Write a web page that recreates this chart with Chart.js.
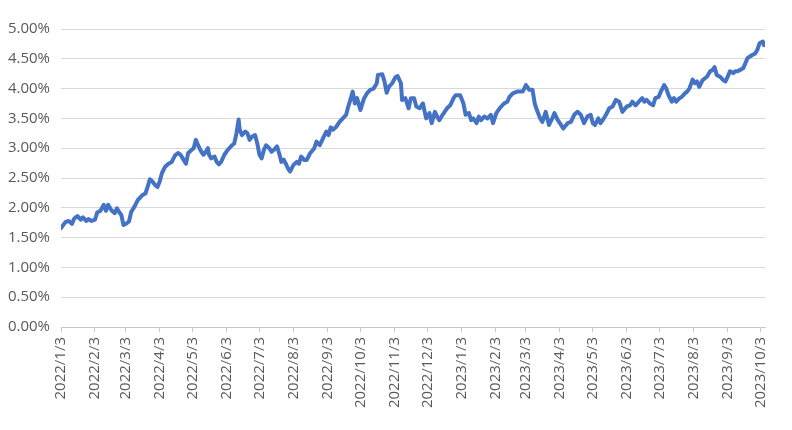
<!DOCTYPE html>
<html>
<head>
<meta charset="utf-8">
<script src="https://cdn.jsdelivr.net/npm/chart.js@4"></script>
<style>
  html, body { margin: 0; padding: 0; background: #ffffff; }
  #wrap { width: 792px; height: 430px; position: relative; }
</style>
</head>
<body>
<div id="wrap"><canvas id="c" width="792" height="430"></canvas></div>
<script>
// ---- data ----
const dates = [
"2022/1/3","2022/1/7","2022/1/10","2022/1/13","2022/1/15","2022/1/18","2022/1/21","2022/1/23","2022/1/26","2022/1/28","2022/1/31",
"2022/2/3","2022/2/5","2022/2/8","2022/2/11","2022/2/13","2022/2/15","2022/2/18","2022/2/21","2022/2/23","2022/2/25","2022/2/27",
"2022/3/1","2022/3/4","2022/3/6","2022/3/8","2022/3/11","2022/3/14","2022/3/18","2022/3/21","2022/3/23","2022/3/25","2022/3/27","2022/3/30",
"2022/4/1","2022/4/3","2022/4/5","2022/4/8","2022/4/11","2022/4/14","2022/4/17","2022/4/20","2022/4/22","2022/4/24","2022/4/27","2022/4/29",
"2022/5/2","2022/5/4","2022/5/6","2022/5/8","2022/5/11","2022/5/13","2022/5/15","2022/5/17","2022/5/18","2022/5/20","2022/5/23","2022/5/25","2022/5/27","2022/5/29",
"2022/6/1","2022/6/4","2022/6/8","2022/6/10","2022/6/12","2022/6/14","2022/6/15","2022/6/17","2022/6/20","2022/6/22","2022/6/24","2022/6/26","2022/6/29",
"2022/7/1","2022/7/3","2022/7/5","2022/7/7","2022/7/9","2022/7/12","2022/7/14","2022/7/16","2022/7/19","2022/7/21","2022/7/23","2022/7/25","2022/7/27","2022/7/29","2022/7/31",
"2022/8/3","2022/8/6","2022/8/8","2022/8/10","2022/8/13","2022/8/15","2022/8/18","2022/8/22","2022/8/24","2022/8/27","2022/8/30",
"2022/9/2","2022/9/4","2022/9/6","2022/9/8","2022/9/11","2022/9/14","2022/9/17","2022/9/20","2022/9/22","2022/9/24","2022/9/26","2022/9/28","2022/9/30",
"2022/10/3","2022/10/6","2022/10/9","2022/10/12","2022/10/15","2022/10/18","2022/10/19","2022/10/23","2022/10/25","2022/10/27","2022/10/29",
"2022/11/1","2022/11/4","2022/11/6","2022/11/9","2022/11/10","2022/11/13","2022/11/16","2022/11/18","2022/11/21","2022/11/23","2022/11/26","2022/11/29",
"2022/12/2","2022/12/5","2022/12/7","2022/12/10","2022/12/12","2022/12/14","2022/12/17","2022/12/21","2022/12/24","2022/12/27","2022/12/29",
"2023/1/2","2023/1/5","2023/1/7","2023/1/10","2023/1/12","2023/1/14","2023/1/17","2023/1/19","2023/1/21","2023/1/24","2023/1/27","2023/1/30",
"2023/2/1","2023/2/4","2023/2/7","2023/2/11","2023/2/14","2023/2/16","2023/2/19","2023/2/23","2023/2/26","2023/2/28",
"2023/3/3","2023/3/6","2023/3/9","2023/3/11","2023/3/13","2023/3/16","2023/3/18","2023/3/21","2023/3/24","2023/3/27","2023/3/29",
"2023/4/1","2023/4/4","2023/4/6","2023/4/10","2023/4/13","2023/4/16","2023/4/19","2023/4/22","2023/4/25","2023/4/28",
"2023/5/1","2023/5/3","2023/5/5","2023/5/8","2023/5/10","2023/5/12","2023/5/15","2023/5/18","2023/5/21","2023/5/24","2023/5/27","2023/5/30",
"2023/6/3","2023/6/6","2023/6/8","2023/6/11","2023/6/14","2023/6/17","2023/6/19","2023/6/21","2023/6/24","2023/6/27","2023/6/29",
"2023/7/2","2023/7/4","2023/7/7","2023/7/9","2023/7/11","2023/7/14","2023/7/16","2023/7/18","2023/7/21","2023/7/23","2023/7/26","2023/7/28","2023/7/30",
"2023/8/2","2023/8/4","2023/8/6","2023/8/8","2023/8/11","2023/8/15","2023/8/18","2023/8/20","2023/8/22","2023/8/24","2023/8/27","2023/8/30",
"2023/9/1","2023/9/3","2023/9/5","2023/9/8","2023/9/10","2023/9/12","2023/9/14","2023/9/17","2023/9/19","2023/9/21","2023/9/25","2023/9/28","2023/9/30",
"2023/10/2","2023/10/5","2023/10/6"
];
const rates = [
1.66,1.76,1.78,1.73,1.82,1.86,1.80,1.84,1.78,1.81,1.78,
1.80,1.92,1.95,2.05,1.95,2.05,1.96,1.91,1.99,1.93,1.88,
1.71,1.74,1.77,1.93,2.02,2.13,2.21,2.24,2.35,2.48,2.45,2.38,
2.35,2.44,2.58,2.69,2.74,2.77,2.88,2.92,2.89,2.83,2.74,2.92,
2.97,3.00,3.14,3.05,2.94,2.89,2.94,3.00,2.89,2.83,2.86,2.77,2.73,2.77,
2.89,2.97,3.05,3.08,3.25,3.48,3.31,3.22,3.28,3.25,3.14,3.19,3.22,
3.08,2.89,2.83,2.97,3.05,3.00,2.94,2.97,3.03,2.91,2.77,2.81,2.74,2.66,2.61,
2.72,2.77,2.74,2.86,2.80,2.80,2.91,3.00,3.11,3.05,3.17,
3.28,3.22,3.35,3.31,3.36,3.44,3.50,3.56,3.70,3.82,3.95,3.75,3.84,
3.64,3.82,3.92,3.98,4.00,4.09,4.23,4.24,4.12,3.93,4.03,
4.09,4.19,4.21,4.09,3.81,3.84,3.67,3.84,3.84,3.70,3.67,3.75,
3.50,3.59,3.42,3.61,3.53,3.47,3.56,3.67,3.72,3.84,3.89,
3.89,3.75,3.56,3.59,3.47,3.50,3.42,3.53,3.47,3.53,3.50,3.56,
3.42,3.59,3.67,3.75,3.78,3.86,3.92,3.95,3.95,3.95,
4.06,3.98,3.98,3.75,3.64,3.50,3.44,3.61,3.39,3.50,3.59,
3.47,3.39,3.33,3.42,3.44,3.56,3.61,3.56,3.42,3.53,
3.56,3.42,3.39,3.50,3.42,3.47,3.56,3.67,3.70,3.81,3.78,3.61,
3.70,3.72,3.78,3.72,3.78,3.84,3.78,3.81,3.75,3.72,3.84,
3.86,3.95,4.06,4.00,3.89,3.78,3.84,3.78,3.84,3.86,3.92,3.95,4.00,
4.15,4.09,4.12,4.03,4.14,4.20,4.29,4.31,4.36,4.23,4.20,4.14,
4.12,4.20,4.29,4.26,4.29,4.29,4.31,4.34,4.42,4.51,4.56,4.59,4.65,
4.76,4.79,4.73
];
const tickDates = [
"2022/1/3","2022/2/3","2022/3/3","2022/4/3","2022/5/3","2022/6/3","2022/7/3","2022/8/3","2022/9/3","2022/10/3","2022/11/3","2022/12/3",
"2023/1/3","2023/2/3","2023/3/3","2023/4/3","2023/5/3","2023/6/3","2023/7/3","2023/8/3","2023/9/3","2023/10/3"
];
const axisStart = "2022/1/3";
const axisEnd = "2023/10/7";
const yTicks = { min: 0, max: 5, step: 0.5 };

// ---- helpers ----
function dayOf(s) {
  const p = s.split('/').map(Number);
  const b = axisStart.split('/').map(Number);
  return (Date.UTC(p[0], p[1] - 1, p[2]) - Date.UTC(b[0], b[1] - 1, b[2])) / 86400000;
}
const points = dates.map((d, i) => ({ x: dayOf(d), y: rates[i] }));
const tickValues = tickDates.map(dayOf);

const FONT = "'Open Sans', 'Liberation Sans', sans-serif";
const TEXT = '#595959';

new Chart(document.getElementById('c'), {
  type: 'line',
  data: {
    datasets: [{
      data: points,
      borderColor: '#4472C4',
      borderWidth: 4,
      pointRadius: 0,
      tension: 0,
      fill: false,
      borderJoinStyle: 'round',
      borderCapStyle: 'round'
    }]
  },
  options: {
    responsive: false,
    animation: false,
    events: [],
    layout: { padding: { left: 0, right: 27, top: 29, bottom: 0 } },
    plugins: { legend: { display: false }, tooltip: { enabled: false } },
    scales: {
      x: {
        type: 'linear',
        min: dayOf(axisStart),
        max: dayOf(axisEnd),
        afterBuildTicks: (scale) => { scale.ticks = tickValues.map(v => ({ value: v })); },
        afterFit: (scale) => { scale.height = 103; },
        ticks: {
          autoSkip: false,
          maxRotation: 90,
          minRotation: 90,
          padding: 5,
          color: TEXT,
          font: { family: FONT, size: 15 },
          callback: (v, i) => tickDates[i]
        },
        grid: {
          drawOnChartArea: false,
          drawTicks: true,
          tickLength: 5,
          color: '#c8c8c8',
          lineWidth: 1
        },
        border: { display: true, color: '#c8c8c8', width: 1 }
      },
      y: {
        min: yTicks.min,
        max: yTicks.max,
        afterFit: (scale) => { scale.width = 61; },
        ticks: {
          stepSize: yTicks.step,
          padding: 11,
          color: TEXT,
          font: { family: FONT, size: 15 },
          callback: (v) => v.toFixed(2) + '%'
        },
        grid: { color: '#d9d9d9', lineWidth: 1, drawTicks: false },
        border: { display: false }
      }
    }
  }
});
</script>
</body>
</html>
